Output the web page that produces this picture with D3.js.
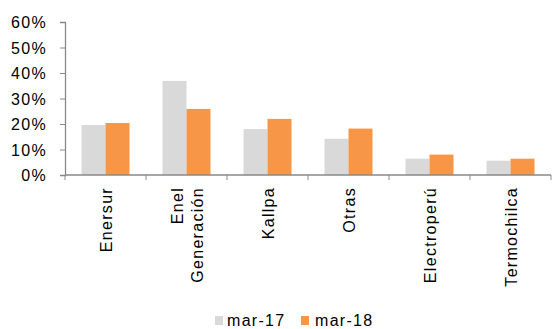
<!DOCTYPE html>
<html><head><meta charset="utf-8">
<script src="https://cdn.jsdelivr.net/npm/d3@7"></script>
<style>
html,body{margin:0;padding:0;background:#fff;}
text{font-family:"Liberation Sans",Arial,sans-serif;font-size:16px;fill:#000;letter-spacing:1.3px;}
</style></head>
<body><svg id="c" width="552" height="329"></svg>
<script>
const categories = [["Enersur"],["Enel","Generación"],["Kallpa"],["Otras"],["Electroperú"],["Termochilca"]];
const seriesNames = ["mar-17","mar-18"];
const mar17 = [0.196,0.369,0.180,0.142,0.064,0.056];
const mar18 = [0.204,0.259,0.220,0.182,0.080,0.064];
const yTicks = [0,0.1,0.2,0.3,0.4,0.5,0.6];
const colors = ["#d9d9d9","#f79646"];

(function(){
const svg = d3.select("#c");
const mLeft = 65, mRight = 551, mTop = 22, mBottom = 175;
const x = d3.scaleBand().domain(d3.range(categories.length)).range([mLeft,mRight]).paddingInner(0).paddingOuter(0);
const y = d3.scaleLinear().domain([0,0.6]).range([mBottom,mTop]);
const bw = 24;
const xs = d3.scaleBand().domain([0,1]).range([0,bw*2]);

const series = [mar17, mar18];
series.forEach((vals,si)=>{
  svg.append("g").selectAll("rect").data(vals).join("rect")
    .attr("x",(d,i)=>x(i)+x.bandwidth()/2-bw+xs(si))
    .attr("width",xs.bandwidth())
    .attr("y",d=>y(d))
    .attr("height",d=>mBottom-y(d))
    .attr("fill",colors[si]);
});

const yAxis = d3.axisLeft(y).tickValues(yTicks).tickFormat(d3.format(".0%")).tickSize(5).tickPadding(13);
const gy = svg.append("g").attr("transform",`translate(${mLeft},0)`).call(yAxis);
gy.select(".domain").attr("stroke","#898989").attr("stroke-width",1.3);
gy.selectAll(".tick line").attr("stroke","#898989");
gy.selectAll(".tick text").attr("font-size",16).attr("font-family","Liberation Sans, Arial, sans-serif").attr("fill","#000").attr("dy","0.36em");

const gx = svg.append("g").attr("transform",`translate(0,${mBottom})`);
gx.append("line").attr("x1",mLeft).attr("x2",mRight).attr("y1",0).attr("y2",0).attr("stroke","#898989").attr("stroke-width",1.3);
const tickXs = d3.range(categories.length+1).map(i=> i<categories.length ? x(i) : mRight);
gx.selectAll("line.t").data(tickXs).join("line").attr("class","t")
  .attr("x1",d=>d).attr("x2",d=>d).attr("y1",0).attr("y2",5).attr("stroke","#898989");

categories.forEach((lines,i)=>{
  const cx = x(i)+x.bandwidth()/2;
  const n = lines.length;
  lines.forEach((ln,j)=>{
    const off = (j-(n-1)/2)*20;
    svg.append("text")
      .attr("transform",`translate(${cx+off+6},187) rotate(-90)`)
      .attr("text-anchor","end")
      .text(ln);
  });
});

const leg = [{x:215,tx:227},{x:301,tx:315}];
seriesNames.forEach((s,i)=>{
  svg.append("rect").attr("x",leg[i].x).attr("y",316).attr("width",8).attr("height",9).attr("fill",colors[i]);
  svg.append("text").attr("x",leg[i].tx).attr("y",326).text(s);
});
})();
</script></body></html>
